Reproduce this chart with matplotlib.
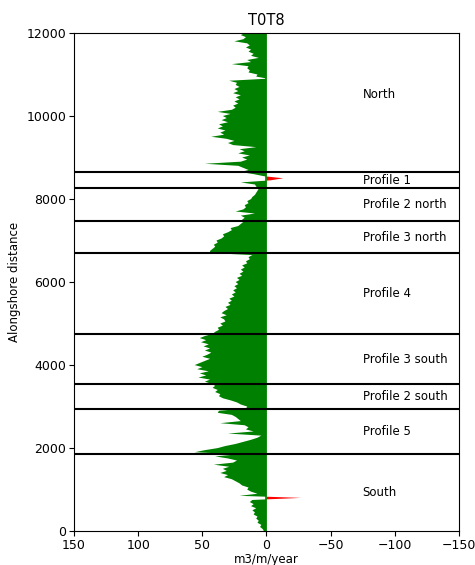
import numpy as np
import matplotlib
matplotlib.use("Agg")
import matplotlib.pyplot as plt

# Alongshore positions (m), 50 m spacing
alongshore = np.arange(0, 12001, 50)

# Transport values (m3/m/year), from 0 m upward
transport = [
    2, 3, 5, 4, 7, 6, 8, 7, 10, 9, 11, 8, 12, 10, 13, 11, -27, 21, 7, 12,
    15, 14, 19, 21, 24, 27, 33, 30, 36, 31,
    34, 29, 41, 26, 23, 30, 40, 22, 56, 48,
    38, 32, 24, 18, 12, 7, 4, 30, 10, 16,
    14, 17, 36, 20, 22, 24, 27, 38, 37, 16,
    15, 20, 23, 28, 34, 37, 36, 40, 38, 42,
    40, 43, 48, 44, 53, 47, 52, 45, 54, 50,
    56, 52, 48, 44, 50, 46, 43, 48, 44, 49,
    45, 51, 47, 52, 48, 42, 40, 37, 38, 34,
    36, 32, 33, 36, 31, 35, 33, 30, 32, 28,
    30, 27, 29, 25, 27, 24, 26, 23, 25, 22,
    24, 21, 23, 19, 21, 18, 20, 17, 19, 15,
    16, 13, 14, 11, 44, 44, 42, 40, 41, 38,
    39, 35, 33, 34, 30, 27, 28, 22, 20, 18,
    19, 17, 20, 9, 24, 18, 16, 17, 14, 15,
    12, 11, 9, 8, 7, 6, 8, 9, 20, -3,
    -13, 2, 10, 20, 14, 18, 22, 48, 20, 15,
    19, 13, 22, 17, 21, 8, 26, 30, 25, 31,
    43, 33, 36, 32, 38, 34, 37, 30, 35, 31,
    34, 28, 38, 27, 24, 26, 22, 25, 21, 24,
    20, 26, 22, 25, 21, 24, 23, 29, -1, 8,
    7, 14, 13, 15, 14, 27, 12, 15, 6, 12,
    10, 14, 12, 16, 13, 15, 25, 18, 16, 20,
    17,
]

# Section boundaries (alongshore distance)
boundaries = [1860, 2940, 3540, 4740, 6700, 7470, 8255, 8650]

# Section labels and their label positions
section_names = ["South", "Profile 5", "Profile 2 south", "Profile 3 south",
                 "Profile 4", "Profile 3 north", "Profile 2 north",
                 "Profile 1", "North"]
label_y = [930, 2400, 3240, 4140, 5720, 7085, 7862, 8452, 10530]

x = np.array(transport, dtype=float)
y = alongshore

fig = plt.figure(figsize=(4.75, 5.65), dpi=100)
ax = fig.add_axes([0.156, 0.060, 0.810, 0.8816])

ax.fill_betweenx(y, 0, x, where=x >= 0, color="green", interpolate=True, lw=0)
ax.fill_betweenx(y, 0, x, where=x < 0, color="red", interpolate=True, lw=0)
ax.axvline(0, color="green", lw=1.2, zorder=1)

for b in boundaries:
    ax.axhline(b, color="black", lw=1.5)

for name, ly in zip(section_names, label_y):
    ax.text(-75, ly, name, ha="left", va="center", fontsize=8.5)

ax.set_xlim(150, -150)
ax.set_ylim(0, 12000)
ax.set_xticks([150, 100, 50, 0, -50, -100, -150])
ax.set_yticks([0, 2000, 4000, 6000, 8000, 10000, 12000])
ax.set_xlabel("m3/m/year", fontsize=8.5, labelpad=1)
ax.set_ylabel("Alongshore distance", fontsize=8.5)
ax.set_title("T0T8", fontsize=10.5)
ax.tick_params(labelsize=9, pad=2)

fig.savefig("out.png", dpi=100)
